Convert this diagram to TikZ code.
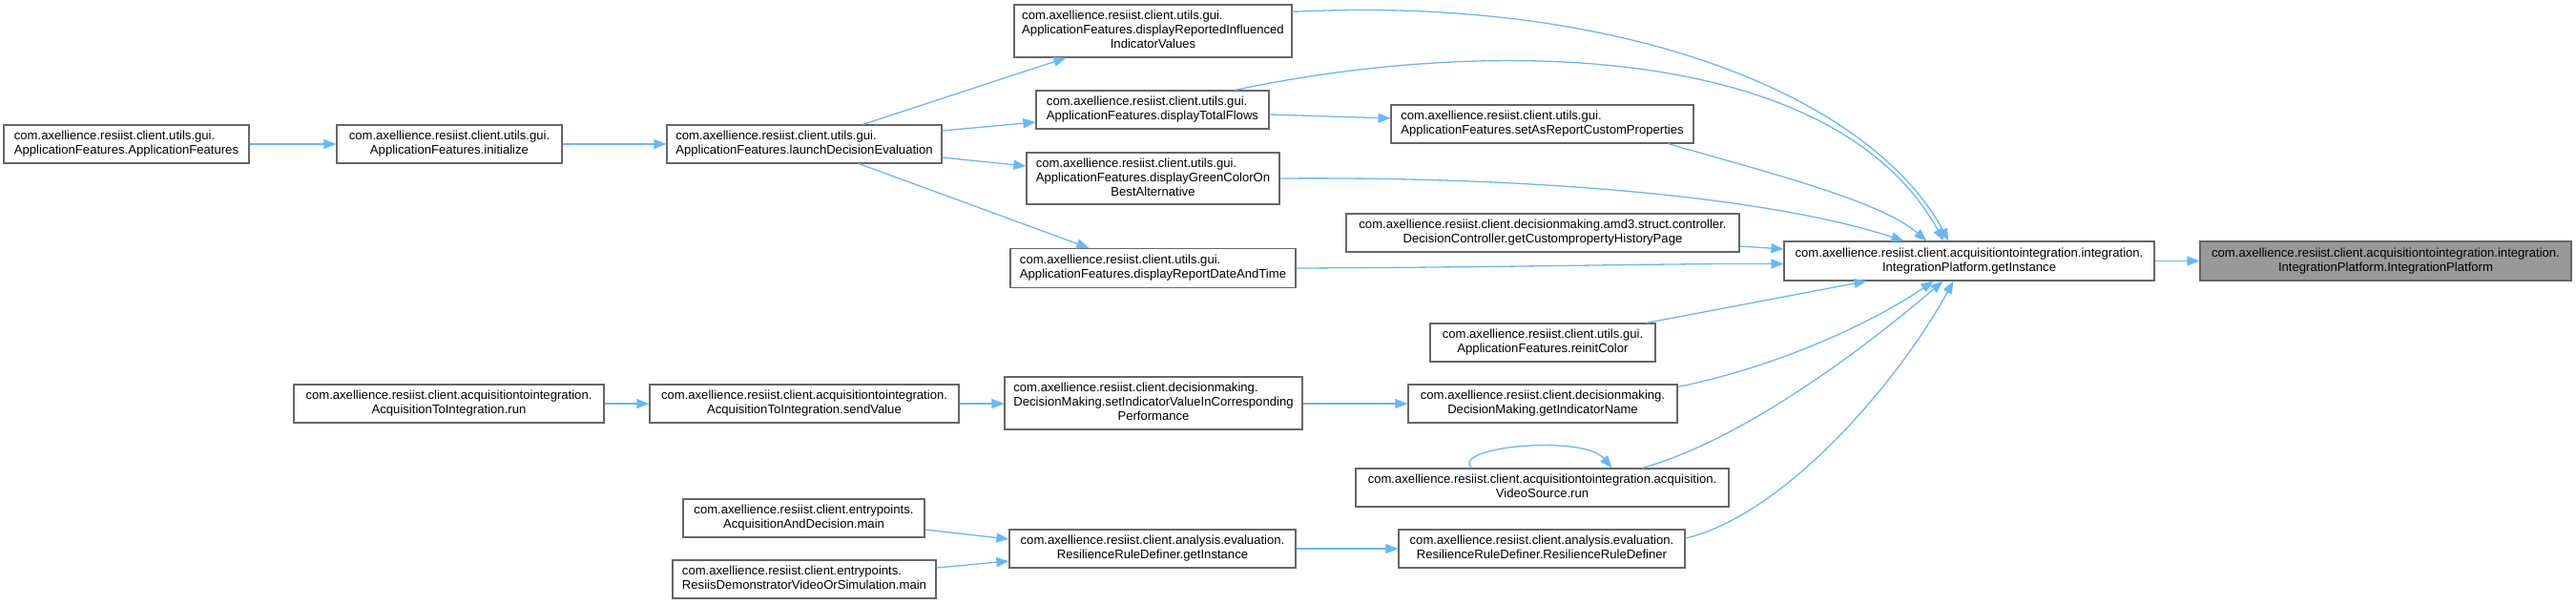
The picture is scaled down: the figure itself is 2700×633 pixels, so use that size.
\documentclass[tikz,border=0pt]{standalone}
\usepackage{fontspec}
\setmainfont{Liberation Sans}
\usetikzlibrary{arrows.meta,calc}
\definecolor{edgeblue}{HTML}{63B8FF}
\definecolor{boxgray}{HTML}{666666}
\definecolor{hlfill}{HTML}{999999}
\newcommand{\twol}[2]{\begin{tabular}{@{}l@{}}#1\\\multicolumn{1}{@{}c@{}}{#2}\end{tabular}}
\newcommand{\threel}[3]{\begin{tabular}{@{}l@{}}#1\\#2\\\multicolumn{1}{@{}c@{}}{#3}\end{tabular}}
\begin{document}
\begin{tikzpicture}[x=1pt,y=-1pt,
  fn/.style={draw=boxgray,line width=1.2pt,fill=white,inner sep=0pt,
    font=\fontsize{13.1pt}{15pt}\selectfont,minimum height=40pt},
  hl/.style={fn,fill=hlfill},
  call/.style={draw=edgeblue,line width=1.3pt,-{Triangle[length=13pt,width=10pt]}}]
\useasboundingbox (0,0) rectangle (2700,633);
\def\gui{com.axellience.resiist.client.utils.gui.}
% nodes
\node[fn,minimum width=257pt] (af) at (132.5,151) {\twol{\gui}{ApplicationFeatures.ApplicationFeatures}};
\node[fn,minimum width=236pt] (init) at (471,151) {\twol{\gui}{ApplicationFeatures.initialize}};
\node[fn,minimum width=288pt] (lde) at (843,151) {\twol{\gui}{ApplicationFeatures.launchDecisionEvaluation}};
\node[fn,minimum width=291pt,minimum height=55pt] (driiv) at (1208.5,32.5) {\threel{\gui}{ApplicationFeatures.displayReportedInfluenced}{IndicatorValues}};
\node[fn,minimum width=244pt] (dtf) at (1208,115) {\twol{\gui}{ApplicationFeatures.displayTotalFlows}};
\node[fn,minimum width=265pt,minimum height=54pt] (dgc) at (1208.5,187) {\threel{\gui}{ApplicationFeatures.displayGreenColorOn}{BestAlternative}};
\node[fn,minimum width=299pt,minimum height=41pt] (drd) at (1208.5,281) {\twol{\gui}{ApplicationFeatures.displayReportDateAndTime}};
\node[fn,minimum width=317pt] (sar) at (1616.5,130) {\twol{\gui}{ApplicationFeatures.setAsReportCustomProperties}};
\node[fn,minimum width=412pt] (dc) at (1617,244) {\twol{com.axellience.resiist.client.decisionmaking.amd3.struct.controller.}{DecisionController.getCustompropertyHistoryPage}};
\node[fn,minimum width=236pt] (rc) at (1617,359) {\twol{\gui}{ApplicationFeatures.reinitColor}};
\node[fn,minimum width=282pt] (gin) at (1617,423) {\twol{com.axellience.resiist.client.decisionmaking.}{DecisionMaking.getIndicatorName}};
\node[fn,minimum width=391pt] (vs) at (1616.5,511) {\twol{com.axellience.resiist.client.acquisitiontointegration.acquisition.}{VideoSource.run}};
\node[fn,minimum width=300pt] (rrd) at (1616,575) {\twol{com.axellience.resiist.client.analysis.evaluation.}{ResilienceRuleDefiner.ResilienceRuleDefiner}};
\node[fn,minimum width=388pt,minimum height=41pt] (gi) at (2064,273.5) {\twol{com.axellience.resiist.client.acquisitiontointegration.integration.}{IntegrationPlatform.getInstance}};
\node[hl,minimum width=389pt,minimum height=41pt] (ip) at (2500.5,273.5) {\twol{com.axellience.resiist.client.acquisitiontointegration.integration.}{IntegrationPlatform.IntegrationPlatform}};
\node[fn,minimum width=325pt] (a2i) at (470.5,423) {\twol{com.axellience.resiist.client.acquisitiontointegration.}{AcquisitionToIntegration.run}};
\node[fn,minimum width=324pt] (sv) at (843,423) {\twol{com.axellience.resiist.client.acquisitiontointegration.}{AcquisitionToIntegration.sendValue}};
\node[fn,minimum width=312pt,minimum height=55pt] (siv) at (1209,422.5) {\threel{com.axellience.resiist.client.decisionmaking.}{DecisionMaking.setIndicatorValueInCorresponding}{Performance}};
\node[fn,minimum width=253pt] (adm) at (842.5,543) {\twol{com.axellience.resiist.client.entrypoints.}{AcquisitionAndDecision.main}};
\node[fn,minimum width=276pt] (rdm) at (843,607) {\twol{com.axellience.resiist.client.entrypoints.}{ResiisDemonstratorVideoOrSimulation.main}};
\node[fn,minimum width=300pt] (rgi) at (1208,575) {\twol{com.axellience.resiist.client.analysis.evaluation.}{ResilienceRuleDefiner.getInstance}};
% edges left part
\draw[call] (af.east) -- (init.west);
\draw[call] (init.east) -- (lde.west);
\draw[call] ($(lde.north west)+(206,0)$) -- ($(driiv.south west)+(55,0)$);
\draw[call] ($(lde.east)+(0,-14)$) -- ($(dtf.west)+(0,13)$);
\draw[call] ($(lde.east)+(0,14)$) -- ($(dgc.west)+(0,-13)$);
\draw[call] ($(lde.south west)+(202,0)$) -- ($(drd.north west)+(83,0)$);
\draw[call] ($(dtf.east)+(0,5)$) -- ($(sar.west)+(0,-6)$);
\draw[call] (a2i.east) -- (sv.west);
\draw[call] (sv.east) -- (siv.west|-sv.east);
\draw[call] (siv.east|-gin.west) -- (gin.west);
\draw[call] ($(adm.east)+(0,12)$) -- ($(rgi.west)+(0,-10)$);
\draw[call] ($(rdm.east)+(0,-12)$) -- ($(rgi.west)+(0,13)$);
\draw[call] (rgi.east) -- (rrd.west);
% edges into getInstance
\draw[call] ($(driiv.north east)+(0,8)$) .. controls (1700,-5) and (1960,100) .. ($(gi.north west)+(173,0)$);
\draw[call] ($(dtf.north west)+(209,0)$) .. controls (1550,40) and (1920,40) .. ($(gi.north west)+(168,0)$);
\draw[call] ($(sar.south west)+(291,0)$) .. controls (1850,180) and (1970,210) .. ($(gi.north west)+(150,0)$);
\draw[call] (dgc.east) .. controls (1600,185) and (1850,205) .. ($(gi.north west)+(126,0)$);
\draw[call] ($(dc.east)+(0,14)$) -- ($(gi.west)+(0,-12.5)$);
\draw[call] (drd.east) .. controls (1600,280) and (1750,276) .. ($(gi.west)+(0,3)$);
\draw[call] ($(rc.north east)+(-10,0)$) -- ($(gi.south west)+(87,0)$);
\draw[call] ($(gin.north east)+(0,3)$) .. controls (1860,385) and (1960,340) .. ($(gi.south west)+(157,0)$);
\draw[call] ($(vs.north west)+(301,0)$) .. controls (1830,460) and (1960,360) .. ($(gi.south west)+(167,0)$);
\draw[call] ($(rrd.east)+(0,-11)$) .. controls (1870,540) and (1990,400) .. ($(gi.south west)+(178,0)$);
\draw[call] ($(vs.north west)+(122,0)$) .. controls (1520,468) and (1660,455) .. ($(vs.north west)+(269,0)$);
\draw[call] (gi.east) -- (ip.west);
\end{tikzpicture}
\end{document}
